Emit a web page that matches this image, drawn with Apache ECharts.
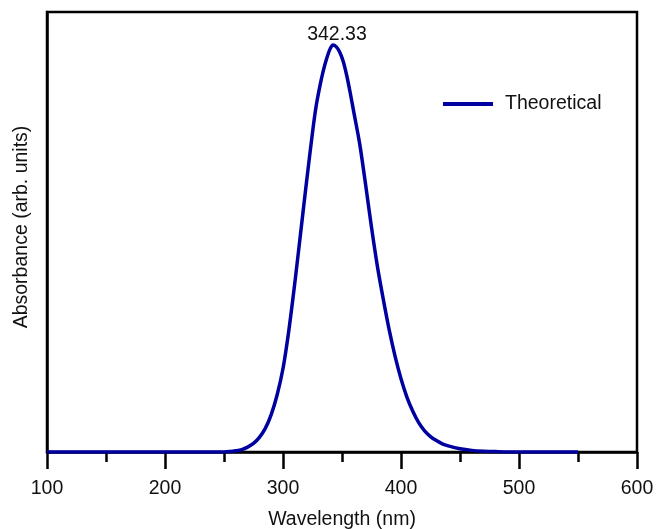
<!DOCTYPE html>
<html>
<head>
<meta charset="utf-8">
<script src="https://cdn.jsdelivr.net/npm/echarts@6/dist/echarts.min.js"></script>
<style>html,body{margin:0;padding:0;background:#fff}#c{width:660px;height:529px}</style>
</head>
<body>
<div id="c"></div>
<script>
// Wavelength (nm) and normalized absorbance
var wavelengths = [100,150,200,250,255,260,265,270,275,280,285,290,295,300,305,310,315,320,325,328,331,334,337,340,342.33,345,348,351,354,357,360,365,370,375,380,385,390,395,400,405,410,415,420,425,430,435,440,450,460,470,480,500,550];
var absorbance  = [0,0,0,0,0.001,0.003,0.006,0.012,0.021,0.036,0.058,0.092,0.14,0.205,0.30,0.415,0.54,0.665,0.785,0.848,0.895,0.935,0.967,0.991,1.0,0.996,0.983,0.96,0.925,0.882,0.835,0.757,0.657,0.552,0.456,0.375,0.30,0.235,0.18,0.135,0.10,0.072,0.052,0.038,0.028,0.02,0.015,0.008,0.004,0.002,0.001,0,0];
var xTicks = [100,200,300,400,500,600];
var peakLabel = '342.33';
var peakX = 342.33, peakY = 1.0;
var seriesName = 'Theoretical';

var data = wavelengths.map(function(w,i){return [w, absorbance[i]];});
var font = 'Liberation Sans';
var fs = 19.5;
var chart = echarts.init(document.getElementById('c'));
chart.setOption({
  animation:false,
  backgroundColor:'#fff',
  grid:{left:47,right:23,top:12,bottom:77,show:true,borderColor:'#000',borderWidth:2.5,containLabel:false,outerBoundsMode:'none'},
  legend:{
    show:true,left:443,top:94,padding:0,itemWidth:50,itemHeight:4,
    data:[{name:seriesName,icon:'rect'}],
    itemStyle:{color:'#0000a0'},
    textStyle:{fontFamily:font,fontSize:fs,color:'#111',padding:[0,0,0,7]}
  },
  xAxis:{
    type:'value',min:xTicks[0],max:xTicks[xTicks.length-1],interval:100,
    name:'Wavelength (nm)',nameLocation:'middle',nameGap:58,
    nameTextStyle:{fontFamily:font,fontSize:fs,color:'#111'},
    axisLine:{show:true,lineStyle:{color:'#000',width:2.5}},
    axisTick:{show:true,length:17,inside:false,lineStyle:{color:'#000',width:2.5}},
    minorTick:{show:true,splitNumber:2,length:10,lineStyle:{color:'#000',width:2.5}},
    axisLabel:{margin:27,fontFamily:font,fontSize:fs,color:'#111'},
    splitLine:{show:false}
  },
  yAxis:{
    type:'value',min:0,max:1.081,
    name:'Absorbance (arb. units)',nameLocation:'middle',nameGap:15,
    nameTextStyle:{fontFamily:font,fontSize:fs,color:'#111',padding:[0,0,0,10]},
    axisLine:{show:true,lineStyle:{color:'#000',width:2.5}},
    axisTick:{show:false},axisLabel:{show:false},splitLine:{show:false}
  },
  series:[{
    name:seriesName,type:'line',data:data,smooth:0.3,
    showSymbol:false,symbol:'none',
    lineStyle:{color:'#0000a0',width:3.5},
    itemStyle:{color:'#0000a0'},
    markPoint:{
      symbol:'circle',symbolSize:1,itemStyle:{color:'rgba(0,0,0,0)'},
      label:{show:true,position:'top',distance:1,offset:[4,1],formatter:peakLabel,fontFamily:font,fontSize:fs,color:'#111'},
      data:[{coord:[peakX,peakY]}]
    }
  }]
});
</script>
</body>
</html>
